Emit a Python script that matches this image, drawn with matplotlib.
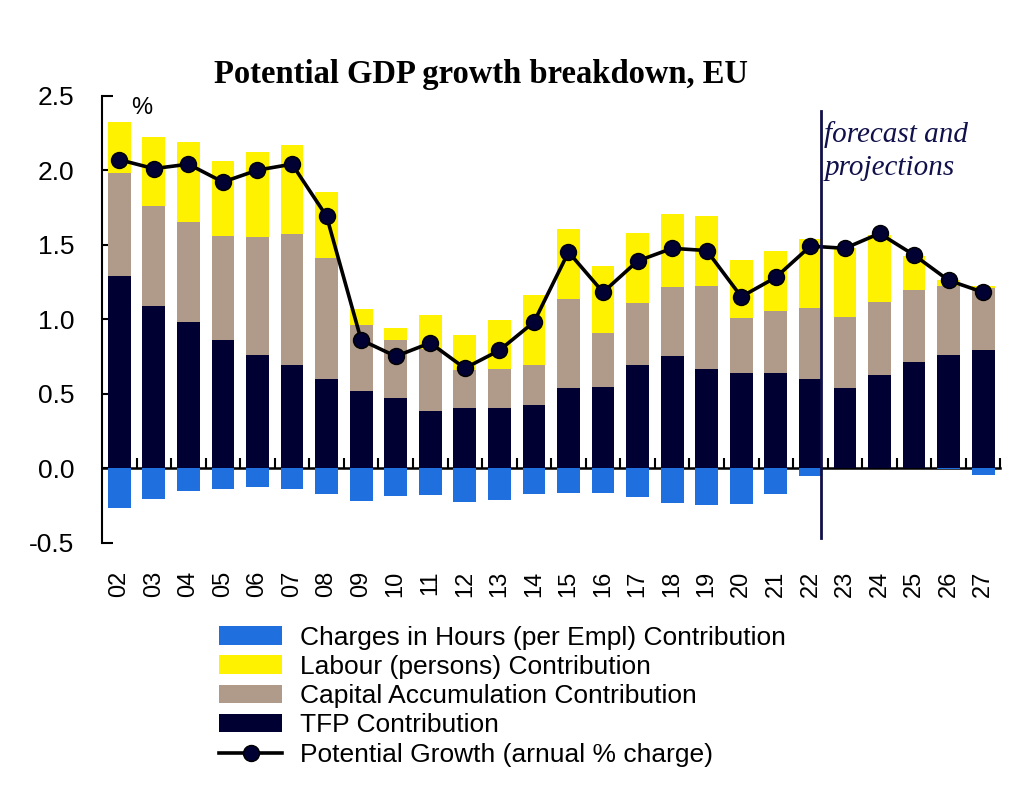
import matplotlib
matplotlib.use("Agg")
import matplotlib.pyplot as plt
import numpy as np

years = ['02', '03', '04', '05', '06', '07', '08', '09', '10', '11', '12', '13', '14',
         '15', '16', '17', '18', '19', '20', '21', '22', '23', '24', '25', '26', '27']

tfp = [1.29, 1.09, 0.98, 0.86, 0.76, 0.69, 0.60, 0.52, 0.47, 0.38, 0.40, 0.405, 0.42,
       0.535, 0.545, 0.69, 0.755, 0.665, 0.635, 0.635, 0.597, 0.535, 0.624, 0.713, 0.76, 0.79]
capital = [0.69, 0.67, 0.67, 0.70, 0.79, 0.88, 0.81, 0.44, 0.39, 0.42, 0.26, 0.26, 0.27,
           0.60, 0.36, 0.42, 0.46, 0.56, 0.37, 0.42, 0.48, 0.48, 0.49, 0.48, 0.46, 0.42]
labour = [0.34, 0.46, 0.54, 0.50, 0.57, 0.60, 0.44, 0.11, 0.08, 0.23, 0.23, 0.33, 0.47,
          0.47, 0.45, 0.47, 0.49, 0.47, 0.39, 0.40, 0.46, 0.46, 0.45, 0.23, 0.04, 0.01]
hours = [-0.27, -0.21, -0.155, -0.14, -0.125, -0.14, -0.177, -0.22, -0.19, -0.18, -0.23,
         -0.215, -0.177, -0.166, -0.17, -0.197, -0.237, -0.248, -0.244, -0.177, -0.054,
         0.0, 0.0, 0.0, -0.005, -0.047]
potential = [2.07, 2.01, 2.04, 1.92, 2.00, 2.04, 1.69, 0.86, 0.75, 0.84, 0.67, 0.79, 0.98,
             1.45, 1.18, 1.39, 1.475, 1.46, 1.15, 1.28, 1.49, 1.475, 1.575, 1.43, 1.26, 1.18]

forecast_after = '22'

C_HOURS = '#1f6fdf'
C_LABOUR = '#fff200'
C_CAPITAL = '#b09a8a'
C_TFP = '#000033'
C_NAVY = '#10104a'

plt.rcParams['font.family'] = ['Liberation Sans', 'DejaVu Sans']

fig = plt.figure(figsize=(10.24, 7.97), dpi=100)
ax = fig.add_axes([0.0996, 0.3193, 0.8774, 0.5607])

x = np.arange(len(years))
tfp_a = np.array(tfp)
cap_a = np.array(capital)
w = 0.66

ax.bar(x, hours, w, color=C_HOURS, label='Charges in Hours (per Empl) Contribution', zorder=2)
ax.bar(x, labour, w, bottom=tfp_a + cap_a, color=C_LABOUR,
       label='Labour (persons) Contribution', zorder=2)
ax.bar(x, capital, w, bottom=tfp_a, color=C_CAPITAL,
       label='Capital Accumulation Contribution', zorder=2)
ax.bar(x, tfp, w, color=C_TFP, label='TFP Contribution', zorder=2)
ax.plot(x, potential, color='black', lw=2.6, marker='o', markersize=11.5,
        markerfacecolor=C_TFP, markeredgecolor='black', markeredgewidth=1,
        label='Potential Growth (arnual % charge)', zorder=4)

ax.set_xlim(-0.5, len(years) - 0.5)
ax.set_ylim(-0.5, 2.5)
ax.set_yticks(np.arange(-0.5, 2.51, 0.5))
ax.set_yticklabels(['-0.5', '0.0', '0.5', '1.0', '1.5', '2.0', '2.5'])
ax.tick_params(axis='y', direction='in', length=8, width=1.5, labelsize=19, pad=20)
ax.set_xticks(x)
ax.set_xticklabels(years, rotation=90)
ax.tick_params(axis='x', length=0, labelsize=17, pad=20)
for side in ['top', 'right', 'bottom']:
    ax.spines[side].set_visible(False)
ax.spines['left'].set_linewidth(1.5)

# zero line with category separators
zero = ax.secondary_xaxis(0, transform=ax.transData)
zero.set_xticks(np.arange(0.5, len(years), 1.0))
zero.tick_params(direction='in', length=7, width=1.5, labelbottom=False)
zero.spines['bottom'].set_linewidth(1.8)
zero.spines['bottom'].set_zorder(3)

# forecast marker
xf = years.index(forecast_after) + 0.3
ax.plot([xf, xf], [-0.47, 2.4], color=C_NAVY, lw=2, zorder=5)
ax.text(xf + 0.1, 2.33, 'forecast and\nprojections', ha='left', va='top',
        fontsize=21, style='italic', family='Liberation Serif', color=C_NAVY,
        linespacing=1.35)

ax.text(0.35, 2.42, '%', fontsize=17, ha='left', va='center')

fig.text(0.47, 0.907, 'Potential GDP growth breakdown, EU', ha='center', va='center',
         fontsize=23.5, fontweight='bold', family='Liberation Serif')

handles, labels = ax.get_legend_handles_labels()
handles = handles[1:] + handles[:1]
labels = labels[1:] + labels[:1]
fig.legend(handles, labels, loc='upper left', bbox_to_anchor=(0.214, 0.215),
           frameon=False, fontsize=19, handlelength=2.4, handleheight=0.7,
           handletextpad=0.65, labelspacing=0.2, borderpad=0, borderaxespad=0)

fig.savefig('out.png', dpi=100)
